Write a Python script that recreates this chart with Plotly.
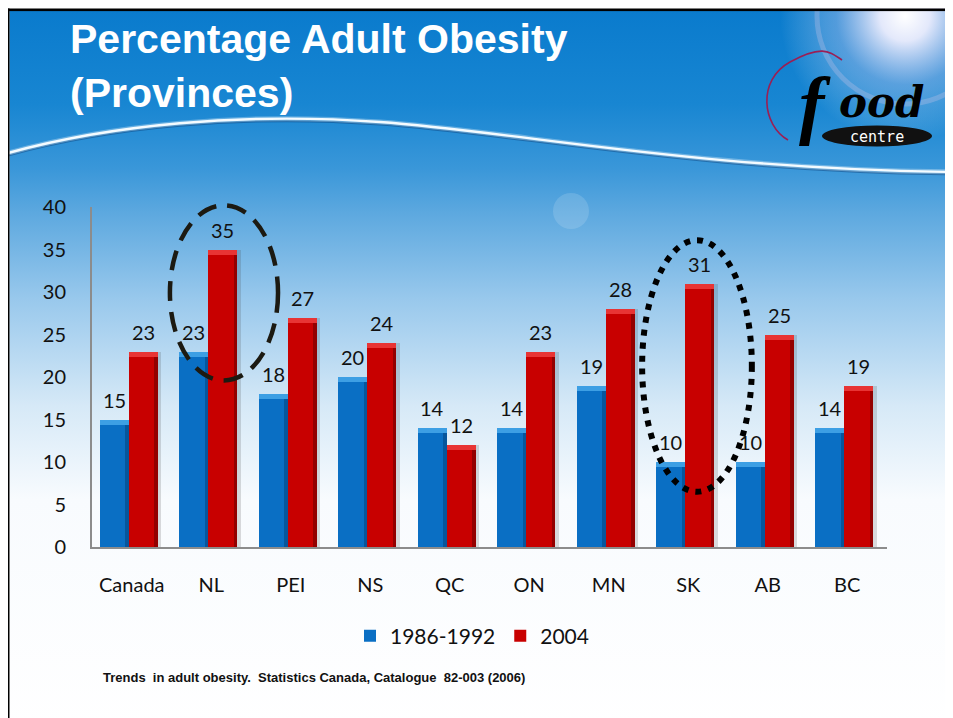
import base64
import plotly.graph_objects as go

# ---------------- data ----------------
categories = ["Canada", "NL", "PEI", "NS", "QC", "ON", "MN", "SK", "AB", "BC"]
obesity_1986_1992 = [15, 23, 18, 20, 14, 14, 19, 10, 10, 14]
obesity_2004 = [23, 35, 27, 24, 12, 23, 28, 31, 25, 19]
series_names = ["1986-1992", "2004"]
y_ticks = [0, 5, 10, 15, 20, 25, 30, 35, 40]

title_lines = ["Percentage Adult Obesity", "(Provinces)"]
source_text = "Trends  in adult obesity.  Statistics Canada, Catalogue  82-003 (2006)"

# highlighted groups (ellipse bounds in data units)
ellipse_nl = dict(x0=0.48, x1=1.84, y0=19.6, y1=40.2)
ellipse_sk = dict(x0=6.42, x1=7.80, y0=6.5, y1=36.1)

# ---------------- geometry (screen pixels; page has an 8px body margin) ----------------
W, H = 953, 718
PAGE = 8
L, R, T, B = 92, 887, 207, 547
PW, PH = R - L, B - T
XMIN, XMAX = -0.5, 9.5
YMAX = 40

def px_x(px):
    return (px - L) / PW

def px_y(py):
    return (B - py) / PH

def dx(x):
    return (x - XMIN) / (XMAX - XMIN)

def dy(y):
    return y / YMAX

BLUE, BLUE_CAP, BLUE_DARK = "#0a6fc4", "#3d9fe4", "#07569c"
RED, RED_CAP, RED_DARK = "#c80000", "#e83434", "#930000"
BAR_W = 0.365
OFF_BLUE, OFF_RED = -0.405, -0.04
LABEL_FONT = dict(family="Lato, 'Noto Sans', sans-serif", size=20, color="#111111")

# ---------------- background (svg, in screen coordinates) ----------------
svg = f'''<svg xmlns="http://www.w3.org/2000/svg" width="{W}" height="{H}" viewBox="{PAGE} {PAGE} {W} {H}">
<defs>
<linearGradient id="bg" x1="0" y1="0" x2="0" y2="1">
 <stop offset="0" stop-color="#0a7bcd"/>
 <stop offset="0.13" stop-color="#1886d2"/>
 <stop offset="0.22" stop-color="#3a97d9"/>
 <stop offset="0.28" stop-color="#5ca8df"/>
 <stop offset="0.40" stop-color="#98c8ec"/>
 <stop offset="0.55" stop-color="#d6e9f7"/>
 <stop offset="0.68" stop-color="#f8fbfe"/>
 <stop offset="1" stop-color="#ffffff"/>
</linearGradient>
<radialGradient id="sun" cx="905" cy="16" r="125" gradientUnits="userSpaceOnUse">
 <stop offset="0" stop-color="#ffffff" stop-opacity="1"/>
 <stop offset="0.2" stop-color="#f6f2ff" stop-opacity="0.92"/>
 <stop offset="0.55" stop-color="#d8d6f6" stop-opacity="0.35"/>
 <stop offset="1" stop-color="#ffffff" stop-opacity="0"/>
</radialGradient>
</defs>
<rect x="0" y="0" width="{W+PAGE*2}" height="{H+PAGE*2}" fill="#ffffff"/>
<rect x="9.5" y="11" width="{W}" height="{H}" fill="url(#bg)"/>
<circle cx="905" cy="16" r="125" fill="url(#sun)"/>
<circle cx="905" cy="16" r="88" fill="none" stroke="#ffd6ec" stroke-opacity="0.22" stroke-width="5"/>
<circle cx="571" cy="211" r="18" fill="#ffffff" fill-opacity="0.14"/>
<path d="M8,155.5 C 110,127.5 240,114.5 380,124.5 S 700,172.5 961,174.5" fill="none" stroke="#0a3f78" stroke-opacity="0.45" stroke-width="2"/>
<path d="M8,153 C 110,125 240,112 380,122 S 700,170 961,172" fill="none" stroke="#ffffff" stroke-opacity="0.3" stroke-width="5"/>
<path d="M8,153 C 110,125 240,112 380,122 S 700,170 961,172" fill="none" stroke="#f4fbff" stroke-width="2.4"/>
<path d="M788,140 C 762,125 757,80 790,62 S 830,52 842,60" fill="none" stroke="#9a1f55" stroke-width="1.6"/>
<ellipse cx="877" cy="136" rx="55" ry="10.5" fill="#111111"/>
<rect x="8" y="8.5" width="{W+PAGE}" height="2.6" fill="#000000"/>
<rect x="7.5" y="8.5" width="2" height="{H+PAGE}" fill="#000000"/>
</svg>'''
svg_uri = "data:image/svg+xml;base64," + base64.b64encode(svg.encode()).decode()

# ---------------- traces ----------------
idx = list(range(len(categories)))
fig = go.Figure()

# soft shadow to the right of the red bars
fig.add_trace(go.Bar(x=idx, y=obesity_2004, offset=OFF_RED + 0.045, width=BAR_W,
                     marker=dict(color="rgba(60,60,60,0.18)", line_width=0),
                     showlegend=False, hoverinfo="skip"))

fig.add_trace(go.Bar(x=idx, y=obesity_1986_1992, name=series_names[0],
                     offset=OFF_BLUE, width=BAR_W,
                     marker=dict(color=BLUE, line_width=0)))
fig.add_trace(go.Bar(x=idx, y=obesity_2004, name=series_names[1],
                     offset=OFF_RED, width=BAR_W,
                     marker=dict(color=RED, line_width=0)))

# bevel details: darker right edge and lighter top cap
for vals, off, dark, cap in [(obesity_1986_1992, OFF_BLUE, BLUE_DARK, BLUE_CAP),
                             (obesity_2004, OFF_RED, RED_DARK, RED_CAP)]:
    fig.add_trace(go.Bar(x=idx, y=vals, offset=off + BAR_W - 0.04, width=0.04,
                         marker=dict(color=dark, line_width=0),
                         showlegend=False, hoverinfo="skip"))
    fig.add_trace(go.Bar(x=idx, y=[0.6] * len(vals), base=[v - 0.6 for v in vals],
                         offset=off, width=BAR_W,
                         marker=dict(color=cap, line_width=0),
                         showlegend=False, hoverinfo="skip"))

# ---------------- annotations ----------------
ann = []
for i in idx:
    for vals, off in [(obesity_1986_1992, OFF_BLUE), (obesity_2004, OFF_RED)]:
        ann.append(dict(x=i + off + BAR_W / 2, y=vals[i], xref="x", yref="y",
                        text=str(vals[i]), showarrow=False, yanchor="bottom",
                        yshift=6, font=LABEL_FONT))

TITLE_FONT = dict(family="'Liberation Sans', Arial, sans-serif", size=41,
                  color="#ffffff", weight="bold")
ann.append(dict(x=px_x(68), y=px_y(39), xref="paper", yref="paper", xanchor="left",
                yanchor="middle", text=title_lines[0], showarrow=False, font=TITLE_FONT))
ann.append(dict(x=px_x(68), y=px_y(93), xref="paper", yref="paper", xanchor="left",
                yanchor="middle", text=title_lines[1], showarrow=False, font=TITLE_FONT))

# logo text
ann.append(dict(x=px_x(815), y=px_y(104), xref="paper", yref="paper", xanchor="center",
                yanchor="middle", text="f", showarrow=False, borderpad=0,
                font=dict(family="'Liberation Serif', serif", size=76, color="#000000",
                          style="italic", weight="bold")))
ann.append(dict(x=px_x(881), y=px_y(102), xref="paper", yref="paper", xanchor="center",
                yanchor="middle", text="ood", showarrow=False, borderpad=0,
                font=dict(family="'DejaVu Serif', serif", size=42, color="#000000",
                          style="italic", weight="bold")))
ann.append(dict(x=px_x(877), y=px_y(137), xref="paper", yref="paper", xanchor="center",
                yanchor="middle", text="centre", showarrow=False, borderpad=0,
                font=dict(family="'DejaVu Sans Mono', monospace", size=15, color="#ffffff")))

ann.append(dict(x=px_x(101), y=px_y(677), xref="paper", yref="paper", xanchor="left",
                yanchor="middle", text=source_text, showarrow=False,
                font=dict(family="'Liberation Sans', Arial, sans-serif", size=13,
                          color="#111111", weight="bold")))

# ---------------- ellipses ----------------
shapes = [
    dict(type="circle", xref="paper", yref="paper",
         x0=dx(ellipse_nl["x0"]), x1=dx(ellipse_nl["x1"]),
         y0=dy(ellipse_nl["y0"]), y1=dy(ellipse_nl["y1"]),
         line=dict(color="#1c1a12", width=4.5, dash="20px,11px"), layer="above"),
    dict(type="circle", xref="paper", yref="paper",
         x0=dx(ellipse_sk["x0"]), x1=dx(ellipse_sk["x1"]),
         y0=dy(ellipse_sk["y0"]), y1=dy(ellipse_sk["y1"]),
         line=dict(color="#000000", width=6, dash="6px,7px"), layer="above"),
]

fig.update_layout(
    width=W, height=H,
    margin=dict(l=L - PAGE, r=W + PAGE - R, t=T - PAGE, b=H + PAGE - B, pad=0),
    paper_bgcolor="#ffffff", plot_bgcolor="rgba(0,0,0,0)",
    barmode="overlay", bargap=0,
    showlegend=True,
    legend=dict(orientation="h", x=px_x(472), y=px_y(636), xanchor="center",
                yanchor="middle", font=dict(family="Lato, 'Noto Sans', sans-serif",
                                            size=21, color="#111111"),
                bgcolor="rgba(0,0,0,0)", traceorder="normal", itemclick=False),
    xaxis=dict(range=[XMIN, XMAX], tickvals=idx, ticktext=categories,
               showline=True, linecolor="#8c8c8c", linewidth=2,
               ticks="outside", ticklen=19, tickcolor="rgba(0,0,0,0)",
               tickfont=LABEL_FONT, showgrid=False, zeroline=False, fixedrange=True),
    yaxis=dict(range=[0, YMAX], tickvals=y_ticks,
               showline=True, linecolor="#8c8c8c", linewidth=2,
               ticks="outside", ticklen=20, tickcolor="rgba(0,0,0,0)",
               tickfont=LABEL_FONT, showgrid=False, zeroline=False, fixedrange=True),
    images=[dict(source=svg_uri, xref="paper", yref="paper",
                 x=px_x(PAGE), y=px_y(PAGE), sizex=W / PW, sizey=H / PH,
                 xanchor="left", yanchor="top", sizing="stretch", layer="below")],
    annotations=ann,
    shapes=shapes,
    hovermode=False,
)

fig.write_html("out.html", config={"displayModeBar": False})
